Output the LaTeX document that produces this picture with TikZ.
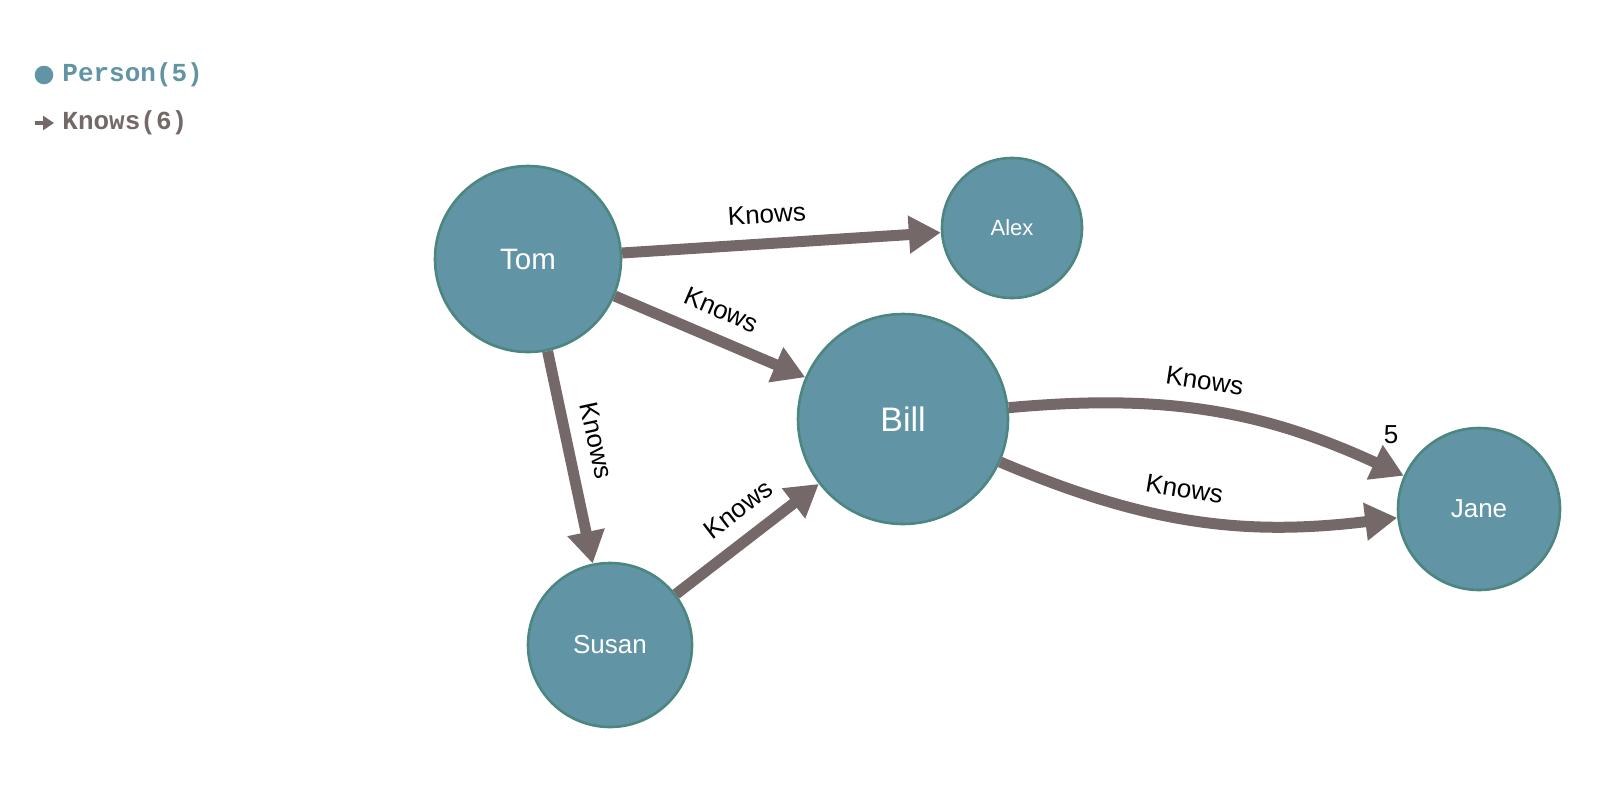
\documentclass[tikz,border=0pt]{standalone}
\usepackage{fontspec}
\setmainfont{Liberation Sans}
\newfontfamily\legendfont{Liberation Mono}
\usepackage{xcolor}
\usepackage{tikz}
\usetikzlibrary{arrows.meta, positioning}

\definecolor{personfill}{RGB}{97,148,164}
\definecolor{personedge}{RGB}{76,134,128}
\definecolor{knowsgray}{RGB}{116,104,104}

\begin{document}
\begin{tikzpicture}[x=0.5pt, y=0.5pt,
    person/.style={circle, draw=personedge, line width=1.3pt, fill=personfill, text=white, inner sep=0pt},
    knows/.style={draw=knowsgray, line width=5.5pt, -{Triangle[length=16pt, width=18pt]}},
    knowslabel/.style={sloped, above=4pt, text=black, font=\fontsize{13}{15}\selectfont},
    legendtext/.style={anchor=west, inner sep=0pt, font=\legendfont\bfseries\fontsize{13}{15}\selectfont}]

    \useasboundingbox (0,0) rectangle (1622,-804);

    % --- Legend ---
    \node[circle, fill=personfill, minimum size=9.3pt, inner sep=0pt] (persondot) at (44,-75) {};
    \node[legendtext, text=personfill] (personkey) at (62,-75) {Person(5)};
    \coordinate (knowstail) at (35,-123);
    \coordinate (knowshead) at (54,-123);
    \draw[knowsgray, line width=1.6pt, -{Triangle[length=5.5pt, width=7pt]}] (knowstail) -- (knowshead);
    \node[legendtext, text=knowsgray] (knowskey) at (62,-123) {Knows(6)};

    % --- Person nodes ---
    \node[person, minimum size=93pt, font=\fontsize{14.75}{17}\selectfont] (tom) at (528,-259) {Tom};
    \node[person, minimum size=70pt, font=\fontsize{11}{13}\selectfont] (alex) at (1012,-228) {Alex};
    \node[person, minimum size=105pt, font=\fontsize{17}{20}\selectfont] (bill) at (903,-419) {Bill};
    \node[person, minimum size=82pt, font=\fontsize{13}{15}\selectfont] (susan) at (610,-645) {Susan};
    \node[person, minimum size=81pt, font=\fontsize{13}{15}\selectfont] (jane) at (1479,-509) {Jane};

    % --- Knows edges ---
    \draw[knows] (tom) -- node[knowslabel, pos=0.46] {Knows} (alex);
    \draw[knows] (tom) -- node[knowslabel] {Knows} (bill);
    \draw[knows] (tom) -- node[knowslabel, pos=0.45] {Knows} (susan);
    \draw[knows] (susan) -- node[knowslabel, pos=0.56] {Knows} (bill);

    % two edges from Bill to Jane
    \draw[knows] (bill) to[bend left=15] node[knowslabel, pos=0.47] {Knows}
        node[pos=0.97, above=7pt, font=\fontsize{13}{15}\selectfont] {5} (jane);
    \draw[knows] (bill) to[bend right=15] node[knowslabel, pos=0.46] {Knows} (jane);

\end{tikzpicture}
\end{document}
